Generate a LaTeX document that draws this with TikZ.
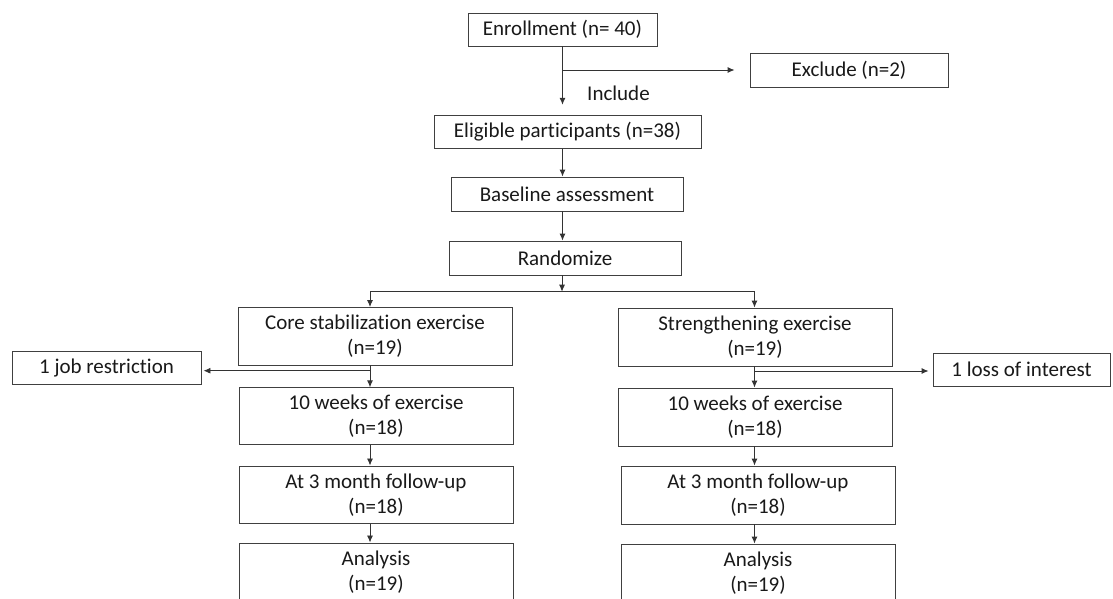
\documentclass[tikz,border=0pt]{standalone}
\usepackage{fontspec}
\setmainfont{Carlito}[Ligatures={NoCommon}]
\usetikzlibrary{arrows.meta,calc}
\tikzset{
  box/.style={draw=black!75, line width=0.9pt, inner sep=0pt, align=center,
    text=black!90, font=\fontsize{21}{25}\selectfont},
  lbl/.style={inner sep=0pt, text=black!90, font=\fontsize{21}{25}\selectfont},
  arr/.style={-{Latex[length=7pt,width=6pt]}, line width=0.9pt, draw=black!80},
  ln/.style={line width=0.9pt, draw=black!80}
}
\begin{document}
\begin{tikzpicture}[x=1pt,y=-1pt]
\clip (0,0) rectangle (1113,598);
\fill[white] (0,0) rectangle (1113,598);
% nodes
\node[box, minimum width=189pt, minimum height=33pt] (enroll) at (562.5,29.5) {Enrollment (n= 40)};
\node[box, minimum width=198pt, minimum height=34pt] (exclude) at (849,70) {Exclude (n=2)};
\node[lbl, anchor=west] (include) at (587,93.5) {Include};
\node[box, minimum width=267pt, minimum height=33pt] (eligible) at (567.5,131.7) {Eligible participants (n=38)};
\node[box, minimum width=232pt, minimum height=34pt] (baseline) at (567,194) {Baseline assessment};
\node[box, minimum width=232pt, minimum height=34pt] (randomize) at (565,258) {Randomize};
\node[box, minimum width=274pt, minimum height=57.5pt] (core) at (375,336.2) {Core stabilization exercise\\(n=19)};
\node[box, minimum width=274pt, minimum height=58pt] (strength) at (755,337) {Strengthening exercise\\(n=19)};
\node[box, minimum width=189pt, minimum height=33pt] (job) at (106.5,367.5) {1 job restriction};
\node[box, minimum width=177pt, minimum height=33pt] (loss) at (1021.5,369.5) {1 loss of interest};
\node[box, minimum width=274pt, minimum height=56.5pt] (L10) at (376,416) {10 weeks of exercise\\(n=18)};
\node[box, minimum width=274pt, minimum height=58pt] (R10) at (755,417) {10 weeks of exercise\\(n=18)};
\node[box, minimum width=274pt, minimum height=57.5pt] (L3) at (376,494.7) {At 3 month follow-up\\(n=18)};
\node[box, minimum width=274pt, minimum height=58pt] (R3) at (758,495) {At 3 month follow-up\\(n=18)};
\node[box, minimum width=274pt, minimum height=57.5pt] (LA) at (376,571.7) {Analysis\\(n=19)};
\node[box, minimum width=274pt, minimum height=58pt] (RA) at (758,573) {Analysis\\(n=19)};
% coordinates
\coordinate (spine) at (562.5,0);
\coordinate (split) at (562,291.7);
\coordinate (lsplit) at (370,291.7);
\coordinate (rsplit) at (754.5,291.7);
\coordinate (jb) at (370,370.7);
\coordinate (lb) at (754.5,371);
% connectors
\draw[arr, shorten >=10pt] (enroll.south -| spine) -- (eligible.north -| spine);
\draw[arr, shorten >=15pt] (exclude.west -| spine) -- (exclude.west);
\draw[arr] (eligible.south -| spine) -- (baseline.north -| spine);
\draw[arr] (baseline.south -| spine) -- (randomize.north -| spine);
\draw[arr] (randomize.south -| split) -- (split);
\draw[ln] (lsplit) -- (rsplit);
\draw[arr] (lsplit) -- (core.north -| lsplit);
\draw[arr] (rsplit) -- (strength.north -| rsplit);
\draw[arr] (core.south -| lsplit) -- (L10.north -| lsplit);
\draw[arr, shorten >=2pt] (jb) -- (jb -| job.east);
\draw[arr] (strength.south -| rsplit) -- (R10.north -| rsplit);
\draw[arr, shorten >=4pt] (lb) -- (lb -| loss.west);
\draw[arr] (L10.south -| lsplit) -- (L3.north -| lsplit);
\draw[arr] (L3.south -| lsplit) -- (LA.north -| lsplit);
\draw[arr] (R10.south -| rsplit) -- (R3.north -| rsplit);
\draw[arr] (R3.south -| rsplit) -- (RA.north -| rsplit);
\end{tikzpicture}
\end{document}
